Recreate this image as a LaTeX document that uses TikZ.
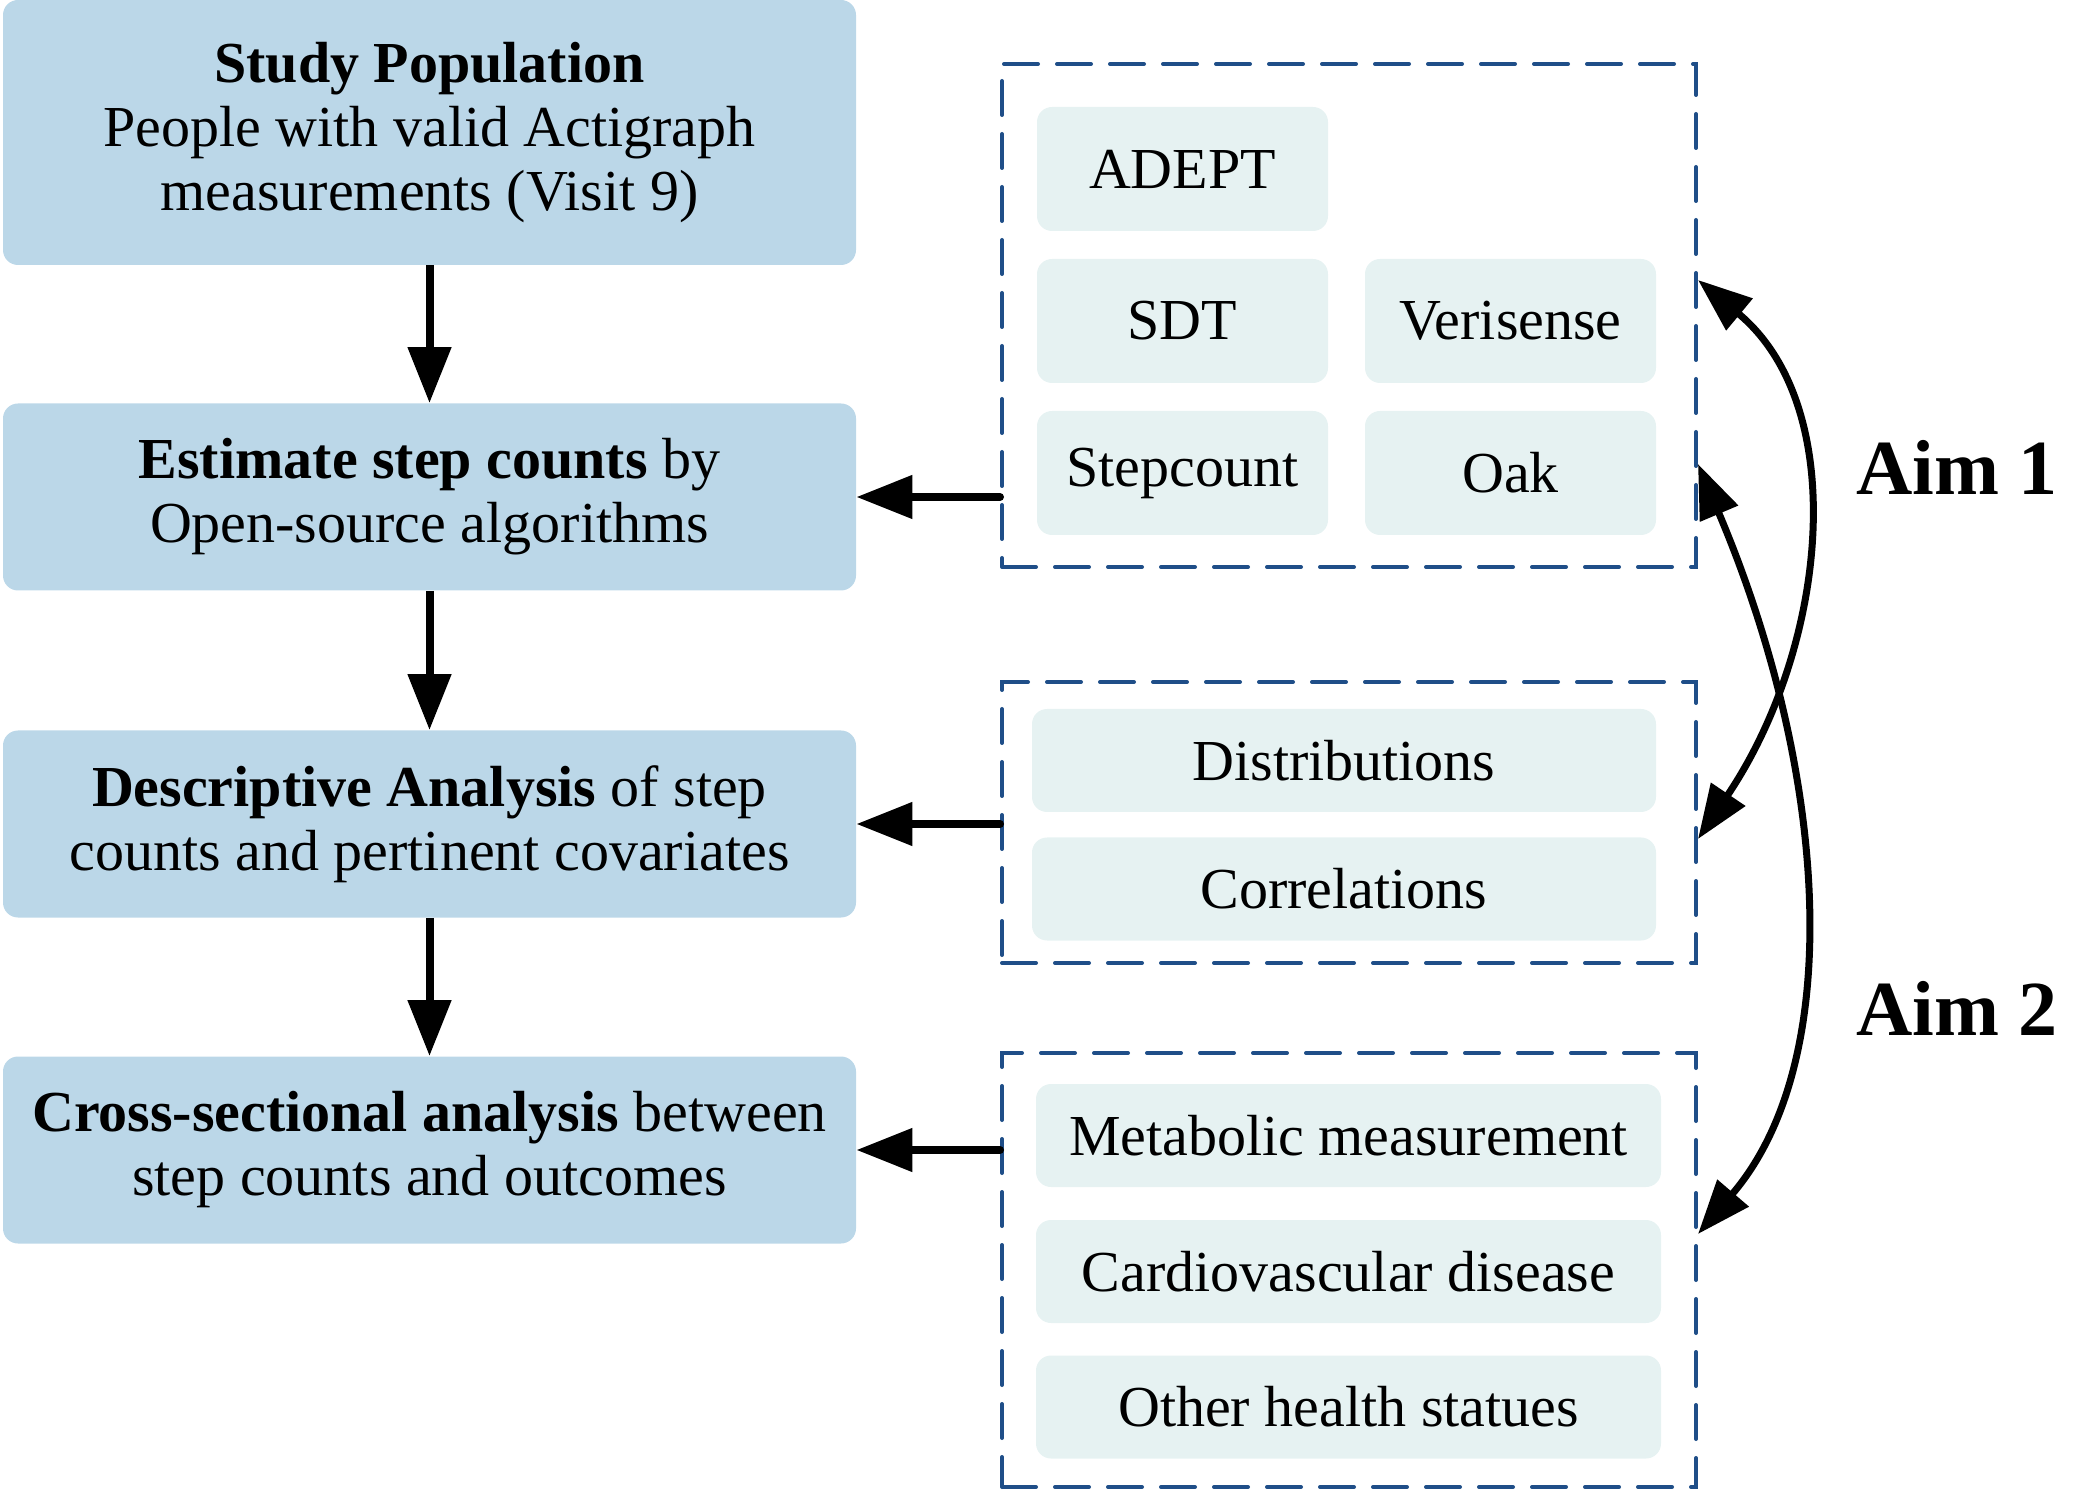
\documentclass[tikz,border=0pt]{standalone}
\usepackage{fontspec}
\setmainfont{Liberation Serif}
\usetikzlibrary{arrows.meta}
\definecolor{mainblue}{HTML}{BBD7E8}
\definecolor{lightbox}{HTML}{E6F2F2}
\definecolor{dashblue}{HTML}{1F4E88}
\tikzset{
  mainbox/.style={fill=mainblue, rounded corners=7.5pt, minimum width=426.5pt, align=center, inner sep=0pt,
    font=\fontsize{29pt}{32pt}\selectfont},
  subbox/.style={fill=lightbox, rounded corners=7.5pt, minimum height=62pt, minimum width=145.5pt, inner sep=0pt,
    font=\fontsize{29pt}{32pt}\selectfont},
  widebox/.style={fill=lightbox, rounded corners=7.5pt, minimum height=51.5pt, minimum width=312pt, inner sep=0pt,
    font=\fontsize{29pt}{32pt}\selectfont},
  groupbox/.style={draw=dashblue, line width=2pt, dash pattern=on 17pt off 9.5pt, line cap=round, minimum width=347pt, inner sep=0pt},
  flowarrow/.style={line width=4pt, -{Triangle[length=28pt,width=21pt]}},
  aimarrow/.style={line width=3.5pt, {Triangle[length=27pt,width=20pt]}-{Triangle[length=27pt,width=20pt]}},
  aimlabel/.style={anchor=base west, inner sep=0pt, font=\fontsize{39pt}{42pt}\selectfont\bfseries}
}
\begin{document}
\begin{tikzpicture}[x=0.5pt,y=-0.5pt]
\useasboundingbox (0,0) rectangle (2083,1491);

% left column
\node[mainbox, minimum height=132.5pt] (b1) at (429.5,132.5) {\textbf{Study Population}\\People with valid Actigraph\\measurements (Visit 9)};
\node[mainbox, minimum height=93.5pt] (b2) at (429.5,497) {\textbf{Estimate step counts} by\\Open-source algorithms};
\node[mainbox, minimum height=93.5pt] (b3) at (429.5,824) {\textbf{Descriptive Analysis} of step\\counts and pertinent covariates};
\node[mainbox, minimum height=93.5pt] (b4) at (429.5,1150) {\textbf{Cross-sectional analysis} between\\step counts and outcomes};

\draw[flowarrow] (b1.south) -- (b2.north);
\draw[flowarrow] (b2.south) -- (b3.north);
\draw[flowarrow] (b3.south) -- (b4.north);

% dashed groups
\node[groupbox, minimum height=251.5pt] (g1) at (1349,315.5) {};
\node[groupbox, minimum height=140.5pt] (g2) at (1349,822.5) {};
\node[groupbox, minimum height=217pt] (g3) at (1349,1270) {};

\node[subbox] (adept) at (1182.5,169) {ADEPT};
\node[subbox] (sdt) at (1182.5,321) {SDT};
\node[subbox] (veri) at (1510.5,321) {Verisense};
\node[subbox] (stepc) at (1182.5,473) {Stepcount};
\node[subbox] (oak) at (1510.5,473) {Oak};

\node[widebox] (distr) at (1344,760.5) {Distributions};
\node[widebox] (corr) at (1344,889) {Correlations};

\node[widebox, minimum width=312.5pt] (metab) at (1348.5,1135.5) {Metabolic measurement};
\node[widebox, minimum width=312.5pt] (cardio) at (1348.5,1271.5) {Cardiovascular disease};
\node[widebox, minimum width=312.5pt] (other) at (1348.5,1407) {Other health statues};

\draw[flowarrow, line cap=round] (g1.west |- b2.east) -- (b2.east);
\draw[flowarrow, line cap=round] (g2.west |- b3.east) -- (b3.east);
\draw[flowarrow, line cap=round] (g3.west |- b4.east) -- (b4.east);

% aim arrows
\coordinate (a1s) at (1698,280);
\coordinate (a1e) at (1698,839);
\coordinate (a2s) at (1698,464);
\coordinate (a2e) at (1698,1234);
\draw[aimarrow] (a1s) .. controls (1852,408) and (1827,648) .. (a1e);
\draw[aimarrow] (a2s) .. controls (1827,768) and (1848,1059) .. (a2e);

\node[aimlabel] (aim1) at (1856,495) {Aim 1};
\node[aimlabel] (aim2) at (1856,1035.5) {Aim 2};
\end{tikzpicture}
\end{document}
